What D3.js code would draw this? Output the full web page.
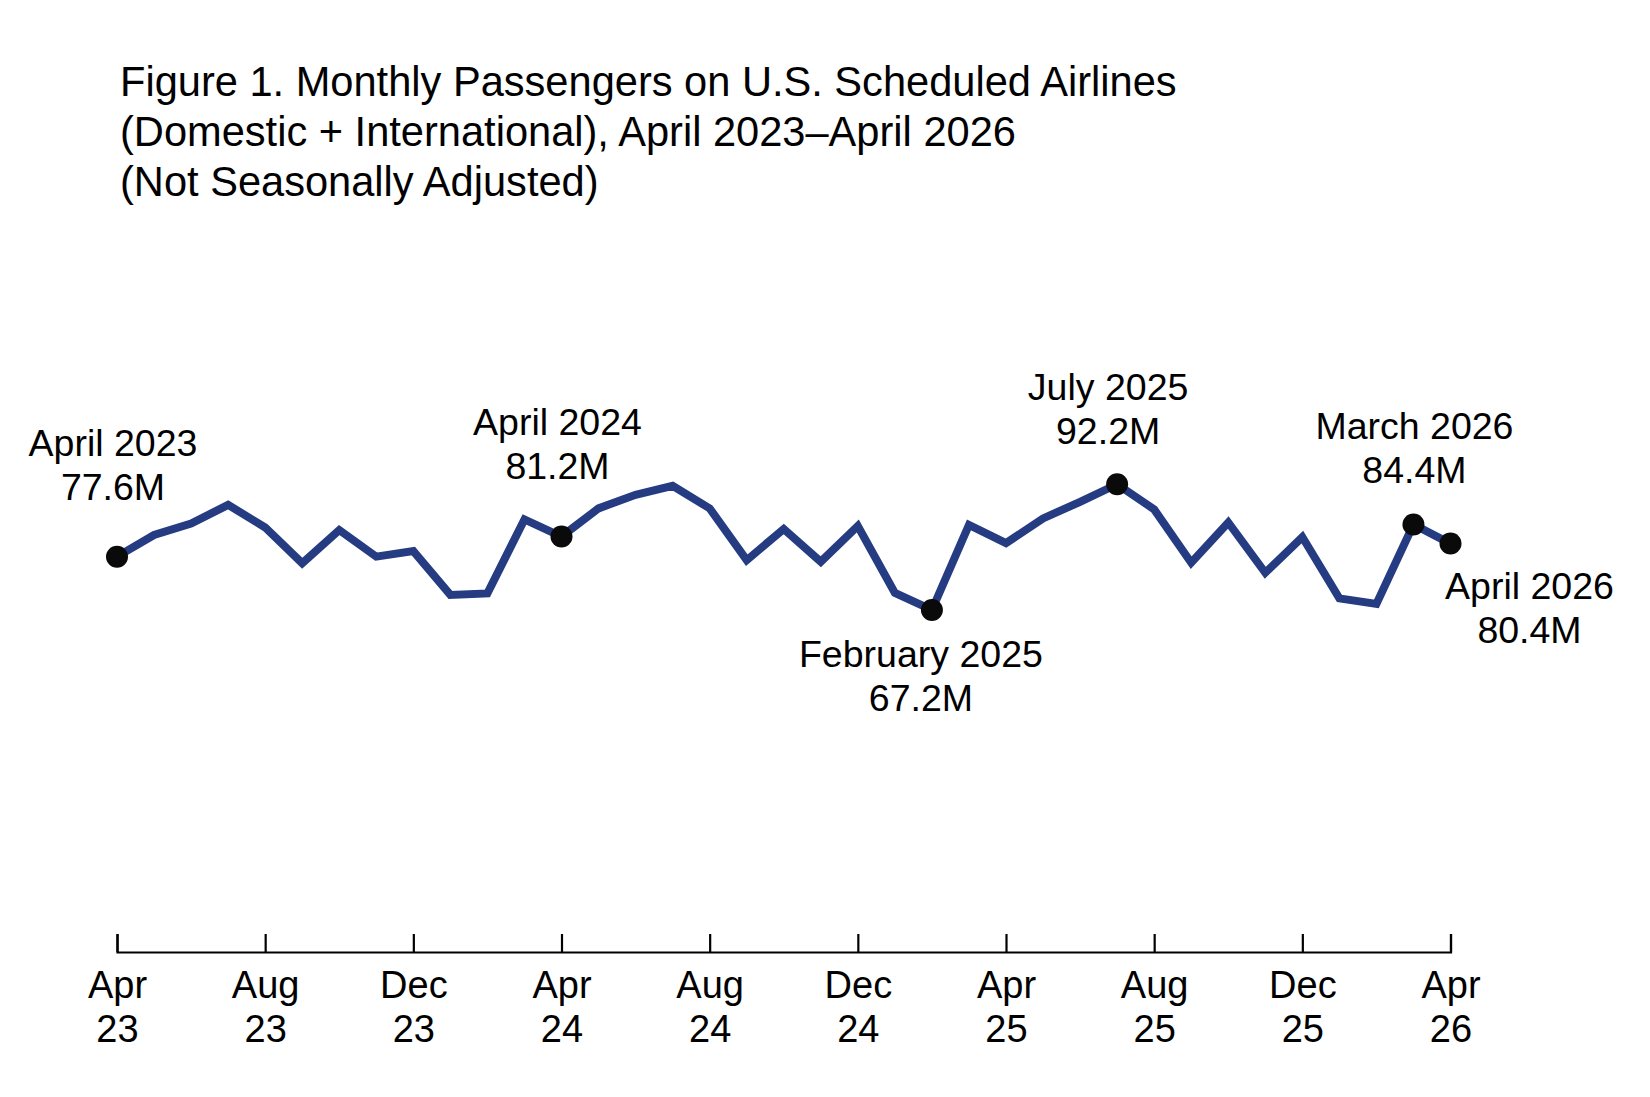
<!DOCTYPE html>
<html>
<head>
<meta charset="utf-8">
<style>
  body { margin: 0; background: #ffffff; }
  text { font-family: "Liberation Sans", Arial, sans-serif; fill: #000; }
</style>
</head>
<body>
<script src="https://cdn.jsdelivr.net/npm/d3@7"></script>
<script>
// month index 0 = April 2023 ... 36 = April 2026
var monthNames = ["Apr","May","Jun","Jul","Aug","Sep","Oct","Nov","Dec","Jan","Feb","Mar",
                  "Apr","May","Jun","Jul","Aug","Sep","Oct","Nov","Dec","Jan","Feb","Mar",
                  "Apr","May","Jun","Jul","Aug","Sep","Oct","Nov","Dec","Jan","Feb","Mar","Apr"];
// passengers, millions
var passengers = [77.8, 82.1, 84.4, 88.1, 83.6, 76.5, 83.1, 77.8, 78.9, 70.2, 70.5, 85.2,
                  81.8, 87.4, 90.1, 91.9, 87.4, 77.1, 83.3, 76.8, 83.9, 70.6, 67.2, 84.1,
                  80.5, 85.4, 88.7, 92.2, 87.2, 76.6, 84.6, 74.6, 81.7, 69.5, 68.4, 84.2, 80.4];

var tickIndex  = [0, 4, 8, 12, 16, 20, 24, 28, 32, 36];
var tickMonths = ["Apr","Aug","Dec","Apr","Aug","Dec","Apr","Aug","Dec","Apr"];
var tickYears  = ["23","23","23","24","24","24","25","25","25","26"];

var noteIndex = [0, 12, 22, 27, 35, 36];
var noteLabel = ["April 2023","April 2024","February 2025","July 2025","March 2026","April 2026"];
var noteValue = ["77.6M","81.2M","67.2M","92.2M","84.4M","80.4M"];

var titleLines = ["Figure 1. Monthly Passengers on U.S. Scheduled Airlines",
                  "(Domestic + International), April 2023\u2013April 2026",
                  "(Not Seasonally Adjusted)"];

var svgWidth = 1650, svgHeight = 1097;
var svg = d3.select('body').append('svg')
    .attr('width', svgWidth)
    .attr('height', svgHeight);

var axisY = 952;
var xScale = d3.scaleLinear().domain([0, 36]).range([117, 1450.5]);
var yScale = d3.scaleLinear().domain([0, 100]).range([948, 445]);

// title
svg.append('g').selectAll('text')
    .data(titleLines)
    .enter().append('text')
    .attr('x', 120)
    .attr('y', function (d, i) { return 96 + i * 50; })
    .style('font-size', '41.6px')
    .text(function (d) { return d; });

// x axis, ticks pointing up
var xAxis = d3.axisBottom(xScale)
    .tickValues(tickIndex)
    .tickSize(-18)
    .tickFormat('');
var axisG = svg.append('g')
    .attr('transform', 'translate(0,' + axisY + ')')
    .call(xAxis);
axisG.selectAll('path, line').attr('stroke', '#000').attr('stroke-width', 2.2);

var tickText = axisG.selectAll('.tick').append('text')
    .attr('text-anchor', 'middle')
    .style('font-size', '38px');
tickText.append('tspan')
    .attr('x', 0).attr('y', 46)
    .text(function (d, i) { return tickMonths[i]; });
tickText.append('tspan')
    .attr('x', 0).attr('y', 90)
    .text(function (d, i) { return tickYears[i]; });

// line
var line = d3.line()
    .x(function (d, i) { return xScale(i); })
    .y(function (d) { return yScale(d); });
svg.append('path')
    .datum(passengers)
    .attr('d', line)
    .attr('fill', 'none')
    .attr('stroke', '#263c82')
    .attr('stroke-width', 8)
    .attr('stroke-linejoin', 'miter');

// highlighted points
svg.append('g').selectAll('circle')
    .data(noteIndex)
    .enter().append('circle')
    .attr('cx', function (d) { return xScale(d); })
    .attr('cy', function (d) { return yScale(passengers[d]); })
    .attr('r', 11)
    .attr('fill', '#0a0a0a');

// label placement relative to each point: [dx, dy of first line]
var notePlace = [[-4, -101], [-4, -102], [-11, 57], [-9, -84], [1, -85], [79, 55]];

var notes = svg.append('g').selectAll('text')
    .data(noteIndex)
    .enter().append('text')
    .attr('text-anchor', 'middle')
    .style('font-size', '37.5px');
notes.append('tspan')
    .attr('x', function (d, i) { return xScale(d) + notePlace[i][0]; })
    .attr('y', function (d, i) { return yScale(passengers[d]) + notePlace[i][1]; })
    .text(function (d, i) { return noteLabel[i]; });
notes.append('tspan')
    .attr('x', function (d, i) { return xScale(d) + notePlace[i][0]; })
    .attr('y', function (d, i) { return yScale(passengers[d]) + notePlace[i][1] + 44; })
    .text(function (d, i) { return noteValue[i]; });
</script>
</body>
</html>
